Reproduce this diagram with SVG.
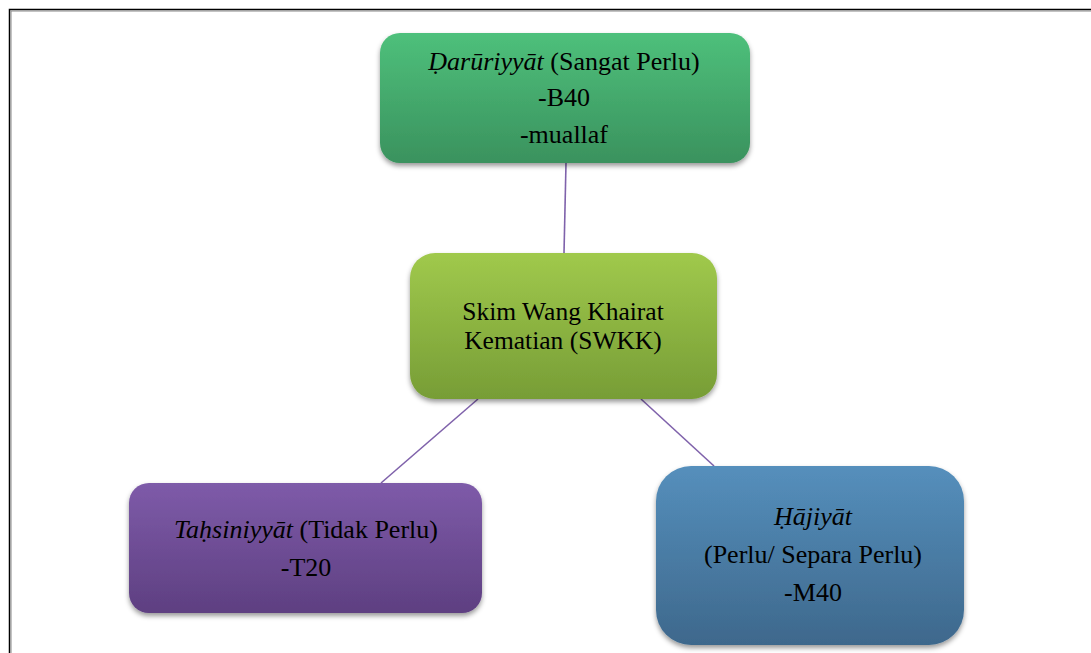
<svg xmlns="http://www.w3.org/2000/svg" width="1091" height="653" viewBox="0 0 1091 653">
<defs>
<linearGradient id="gGreen" x1="0" y1="0" x2="0" y2="1"><stop offset="0" stop-color="#4ec07b"/><stop offset="1" stop-color="#3a925e"/></linearGradient>
<linearGradient id="gLime" x1="0" y1="0" x2="0" y2="1"><stop offset="0" stop-color="#a0c94c"/><stop offset="1" stop-color="#779d36"/></linearGradient>
<linearGradient id="gPurple" x1="0" y1="0" x2="0" y2="1"><stop offset="0" stop-color="#7e5ba9"/><stop offset="1" stop-color="#5e3f81"/></linearGradient>
<linearGradient id="gBlue" x1="0" y1="0" x2="0" y2="1"><stop offset="0" stop-color="#558fbc"/><stop offset="1" stop-color="#3e688c"/></linearGradient>
<filter id="shadow" x="-10%" y="-10%" width="120%" height="130%"><feDropShadow dx="0" dy="3" stdDeviation="2.5" flood-color="#000" flood-opacity="0.4"/></filter>
</defs>
<style>
text{font-family:"Liberation Serif","Times New Roman",serif;font-size:26px;fill:#000;text-anchor:middle}
.it{font-style:italic}
.c{font-size:25.5px}
.conn line{stroke:#7f62ab;stroke-width:1.6}
.frame{stroke:#000;stroke-width:1.5;fill:none}
.frame2{stroke:#888;stroke-width:1;fill:none}
</style>
<rect width="1091" height="653" fill="#fff"/>
<path class="frame" d="M9.5,653 V9.5 H1091"/>
<path class="frame2" d="M11,653 V11 H1091"/>
<g class="conn" id="connectors">
<line x1="566" y1="163" x2="564" y2="253"/>
<line x1="478" y1="399" x2="381" y2="483"/>
<line x1="641" y1="399" x2="714" y2="466"/>
</g>
<g id="node-daruriyyat">
<rect x="380" y="33" width="370" height="130" rx="20" fill="url(#gGreen)" filter="url(#shadow)"/>
<text x="564" y="70"><tspan class="it">Ḍarūriyyāt</tspan> (Sangat Perlu)</text>
<text x="564" y="106">-B40</text>
<text x="564" y="143">-muallaf</text>
</g>
<g id="node-swkk">
<rect x="410" y="253" width="307" height="146" rx="25" fill="url(#gLime)" filter="url(#shadow)"/>
<text class="c" x="563" y="320">Skim Wang Khairat</text>
<text class="c" x="563" y="349">Kematian (SWKK)</text>
</g>
<g id="node-tahsiniyyat">
<rect x="129" y="483" width="353" height="130" rx="20" fill="url(#gPurple)" filter="url(#shadow)"/>
<text x="306" y="538"><tspan class="it">Taḥsiniyyāt</tspan> (Tidak Perlu)</text>
<text x="306" y="576">-T20</text>
</g>
<g id="node-hajiyat">
<rect x="656" y="466" width="308" height="179" rx="35" fill="url(#gBlue)" filter="url(#shadow)"/>
<text x="813" y="525" class="it">Ḥājiyāt</text>
<text x="813" y="563">(Perlu/ Separa Perlu)</text>
<text x="813" y="601">-M40</text>
</g>
</svg>
